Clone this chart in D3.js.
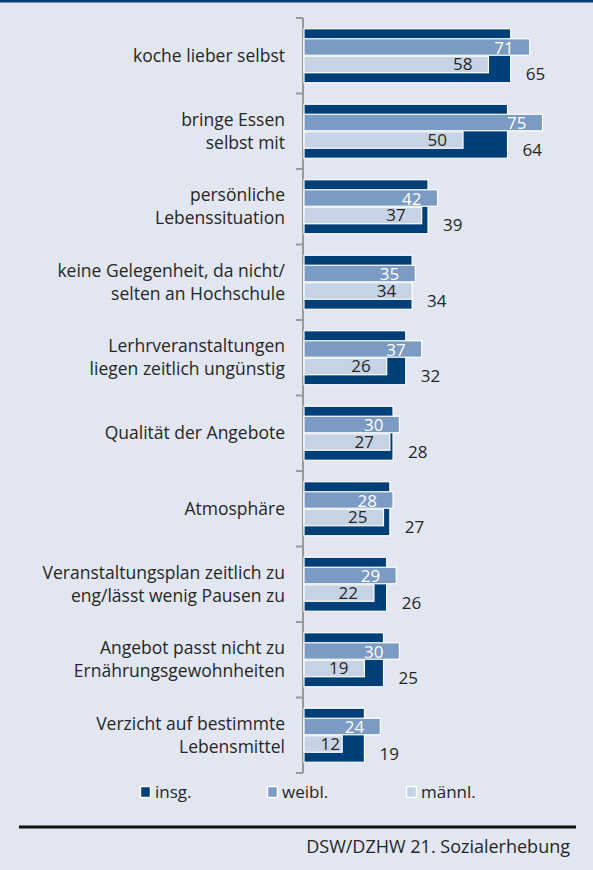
<!DOCTYPE html>
<html>
<head>
<meta charset="utf-8">
<script src="https://cdn.jsdelivr.net/npm/d3@7"></script>
<style>
  html, body { margin: 0; padding: 0; background: #e1e6f1; }
  svg { display: block; }
  text { font-family: "Open Sans", "Noto Sans", sans-serif; fill: #262626; }
</style>
</head>
<body>
<svg id="chart" width="593" height="870"></svg>
<script>
// Gründe gegen die Mensa-Nutzung, Anteile in %
const categories = [
  ["koche lieber selbst"],
  ["bringe Essen", "selbst mit"],
  ["persönliche", "Lebenssituation"],
  ["keine Gelegenheit, da nicht/", "selten an Hochschule"],
  ["Lerhrveranstaltungen", "liegen zeitlich ungünstig"],
  ["Qualität der Angebote"],
  ["Atmosphäre"],
  ["Veranstaltungsplan zeitlich zu", "eng/lässt wenig Pausen zu"],
  ["Angebot passt nicht zu", "Ernährungsgewohnheiten"],
  ["Verzicht auf bestimmte", "Lebensmittel"]
];
const insg  = [65, 64, 39, 34, 32, 28, 27, 26, 25, 19];
const weibl = [71, 75, 42, 35, 37, 30, 28, 29, 30, 24];
const maennl = [58, 50, 37, 34, 26, 27, 25, 22, 19, 12];
const seriesNames = ["insg.", "weibl.", "männl."];
const source = "DSW/DZHW 21. Sozialerhebung";

const colors = { insg: "#003f78", weibl: "#7b9bc2", maennl: "#c6d3e4" };

const svg = d3.select("#chart");
const W = 593, H = 870;

svg.append("rect").attr("width", W).attr("height", H).attr("fill", "#e1e6f1");
// top rule
svg.append("rect").attr("x", 0).attr("y", 0).attr("width", W).attr("height", 2.5).attr("fill", "#003f78");

const axisX = 303;
const x = d3.scaleLinear().domain([0, 100]).range([axisX + 1, axisX + 1 + 318]);
const idx = d3.range(categories.length);
const y = d3.scaleBand().domain(idx).range([18, 773]).paddingInner(0).paddingOuter(0);
const bw = y.bandwidth();

// axis with outward ticks at band boundaries
const boundaries = d3.range(categories.length + 1).map(i => 18 + i * bw);
const axisG = svg.append("g");
axisG.append("line").attr("x1", axisX).attr("x2", axisX).attr("y1", 18).attr("y2", 773)
  .attr("stroke", "#9a9a9a").attr("stroke-width", 2);
axisG.selectAll("line.tick").data(boundaries).join("line").attr("class", "tick")
  .attr("x1", axisX - 7).attr("x2", axisX).attr("y1", d => d).attr("y2", d => d)
  .attr("stroke", "#9a9a9a").attr("stroke-width", 2);

const groups = svg.append("g").selectAll("g").data(idx).join("g")
  .attr("transform", i => `translate(0,${y(i) + bw / 2})`);

const bigH = 54, subH = 16.5;

groups.append("rect")
  .attr("x", x(0)).attr("y", -bigH / 2)
  .attr("width", i => x(insg[i]) - x(0)).attr("height", bigH)
  .attr("fill", colors.insg).attr("stroke", "#fff").attr("stroke-width", 1.2);

groups.append("rect")
  .attr("x", x(0)).attr("y", -subH - 0.5)
  .attr("width", i => x(weibl[i]) - x(0)).attr("height", subH)
  .attr("fill", colors.weibl).attr("stroke", "#fff").attr("stroke-width", 1.2);

groups.append("rect")
  .attr("x", x(0)).attr("y", 0.5)
  .attr("width", i => x(maennl[i]) - x(0)).attr("height", subH)
  .attr("fill", colors.maennl).attr("stroke", "#fff").attr("stroke-width", 1.2);

// value labels
groups.append("text")
  .attr("x", i => x(weibl[i]) - 16).attr("y", -8).attr("dy", "0.35em")
  .attr("text-anchor", "end").attr("font-size", 17).style("fill", "#fff")
  .text(i => weibl[i]);

groups.append("text")
  .attr("x", i => Math.max(x(maennl[i]) - 16, axisX + 37)).attr("y", 8.5).attr("dy", "0.35em")
  .attr("text-anchor", "end").attr("font-size", 17)
  .text(i => maennl[i]);

groups.append("text")
  .attr("x", i => x(insg[i]) + 15).attr("y", 18.5).attr("dy", "0.35em")
  .attr("text-anchor", "start").attr("font-size", 17)
  .text(i => insg[i]);

// category labels
groups.each(function (i) {
  const lines = categories[i];
  const t = d3.select(this).append("text")
    .attr("text-anchor", "end").attr("font-size", 17.5);
  lines.forEach((ln, k) => {
    t.append("tspan").attr("x", 285)
      .attr("y", (k - (lines.length - 1) / 2) * 23)
      .attr("dy", "0.35em").text(ln);
  });
});

// legend
const legendX = [140, 267, 406];
const legColors = [colors.insg, colors.weibl, colors.maennl];
const leg = svg.append("g").selectAll("g").data(seriesNames).join("g")
  .attr("transform", (d, i) => `translate(${legendX[i]},792)`);
leg.append("rect").attr("x", 0.5).attr("y", -5.5).attr("width", 10).attr("height", 11)
  .attr("fill", (d, i) => legColors[i]).attr("stroke", "#fff").attr("stroke-width", 1.5);
leg.append("text").attr("x", 15).attr("y", 0).attr("dy", "0.35em")
  .attr("font-size", 17).text(d => d);

// bottom rule and source
svg.append("rect").attr("x", 19).attr("y", 825.5).attr("width", 557).attr("height", 3).attr("fill", "#111");
svg.append("text").attr("x", 570).attr("y", 847).attr("dy", "0.35em")
  .attr("text-anchor", "end").attr("font-size", 18).text(source);
</script>
</body>
</html>
